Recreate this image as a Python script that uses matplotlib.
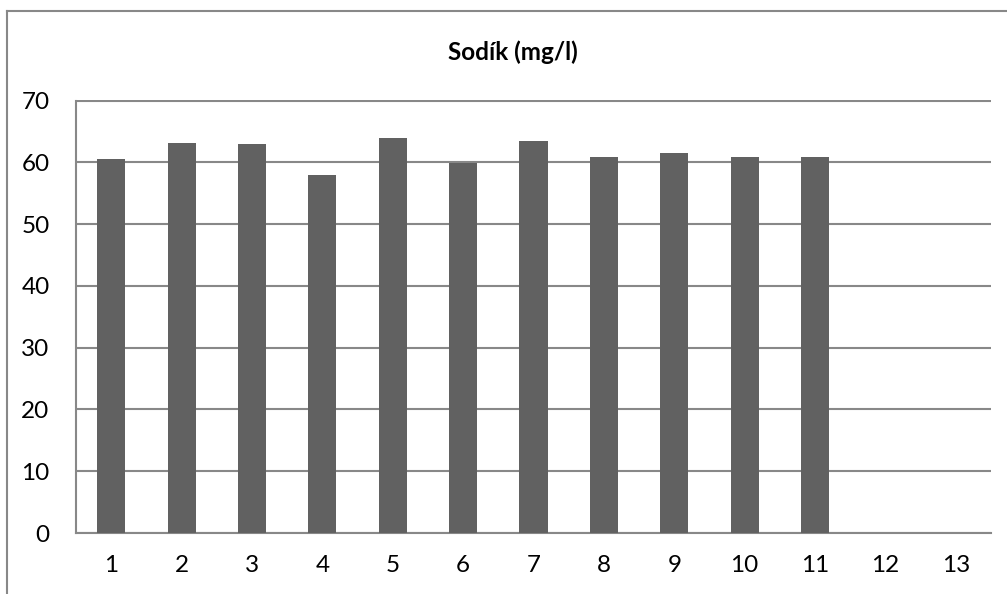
import matplotlib
matplotlib.use("Agg")
import matplotlib.pyplot as plt
from matplotlib.lines import Line2D
import numpy as np

categories = ["1", "2", "3", "4", "5", "6", "7", "8", "9", "10", "11", "12", "13"]
values = [60.5, 63.1, 63.0, 57.9, 63.9, 59.9, 63.4, 60.9, 61.5, 60.9, 60.9, np.nan, np.nan]
title = "Sodík (mg/l)"
yticks = [0, 10, 20, 30, 40, 50, 60, 70]

plt.rcParams['font.family'] = ['Lato', 'DejaVu Sans']

W, H = 1007, 594
fig = plt.figure(figsize=(W / 100, H / 100), dpi=100)
ax = fig.add_axes([76 / W, 1 - 533 / H, 915 / W, 432.5 / H])

x = np.arange(len(categories))
ax.bar(x, values, width=0.4, color="#616161", zorder=3)
ax.set_xlim(-0.5, len(categories) - 0.5)
ax.set_ylim(0, 70)
ax.set_yticks(yticks)
ax.set_yticklabels([str(v) for v in yticks])
ax.set_xticks(x)
ax.set_xticklabels(categories)
ax.grid(axis="y", color="#888888", linewidth=1.5, zorder=1)
for s in ["top", "right"]:
    ax.spines[s].set_visible(False)
ax.spines["left"].set_color("#888888")
ax.spines["bottom"].set_color("#888888")
ax.spines["left"].set_linewidth(1.5)
ax.spines["bottom"].set_linewidth(1.5)
ax.tick_params(axis="both", length=0, labelsize=17.5, colors="#000000")
ax.tick_params(axis="y", pad=19)
ax.tick_params(axis="x", pad=16)

fig.text(513 / W, 1 - 52 / H, title, ha="center", va="center", fontsize=17.5, fontweight="bold")

fig.add_artist(Line2D([6.5 / W, 6.5 / W], [0, 1 - 11 / H], transform=fig.transFigure, color="#888888", linewidth=1.5))
fig.add_artist(Line2D([6.5 / W, 1], [1 - 11 / H, 1 - 11 / H], transform=fig.transFigure, color="#888888", linewidth=1.5))

fig.savefig("out.png", dpi=100)
